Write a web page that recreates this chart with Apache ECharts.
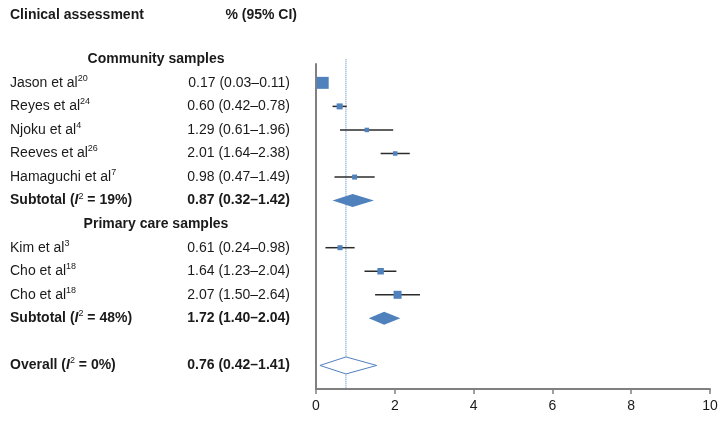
<!DOCTYPE html>
<html><head><meta charset="utf-8">
<script src="https://cdn.jsdelivr.net/npm/echarts@6/dist/echarts.min.js"></script>
<style>html,body{margin:0;padding:0;background:#fff}#c{width:726px;height:421px}</style>
</head><body><div id="c"></div>
<script>
// ---- data ----
const groupHeaders = ['Community samples', 'Primary care samples'];
const groupRows = [0, 7];

const studyNames = ['Jason et al', 'Reyes et al', 'Njoku et al', 'Reeves et al', 'Hamaguchi et al', 'Kim et al', 'Cho et al', 'Cho et al'];
const studyRefs = ['20', '24', '4', '26', '7', '3', '18', '18'];
const studyRows = [1, 2, 3, 4, 5, 8, 9, 10];
const estimates = [0.17, 0.60, 1.29, 2.01, 0.98, 0.61, 1.64, 2.07];
const lowerCI = [0.03, 0.42, 0.61, 1.64, 0.47, 0.24, 1.23, 1.50];
const upperCI = [0.11, 0.78, 1.96, 2.38, 1.49, 0.98, 2.04, 2.64];
const weights = [12, 6, 4.5, 4.5, 5, 5, 6.5, 8];

const summaryPrefix = ['Subtotal', 'Subtotal', 'Overall'];
const summaryI2 = ['19%', '48%', '0%'];
const summaryTexts = ['0.87 (0.32–1.42)', '1.72 (1.40–2.04)', '0.76 (0.42–1.41)'];
const summaryRows = [6, 11, 13];
const diamondMid = [0.93, 1.73, 0.76];
const diamondLow = [0.42, 1.34, 0.10];
const diamondHigh = [1.47, 2.14, 1.54];
const diamondFilled = [true, true, false];
const overallEstimate = 0.76;

const xTicks = [0, 2, 4, 6, 8, 10];

// ---- styles ----
const FONT = '"Liberation Sans", Arial, sans-serif';
const TXT = '#1a1a1a';
const BLUE = '#4F81BD';
const rich = {
  n: {fontSize: 14, fontFamily: FONT, fill: TXT, color: TXT, lineHeight: 18},
  s: {fontSize: 9, fontFamily: FONT, fill: TXT, color: TXT, verticalAlign: 'top'},
  b: {fontSize: 14, fontFamily: FONT, fontWeight: 'bold', fill: TXT, color: TXT, lineHeight: 18},
  bi: {fontSize: 14, fontFamily: FONT, fontWeight: 'bold', fontStyle: 'italic', fill: TXT, color: TXT, lineHeight: 18},
  bs: {fontSize: 9, fontFamily: FONT, fill: TXT, color: TXT, verticalAlign: 'top'}
};

function ciText(e, l, u) { return e.toFixed(2) + ' (' + l.toFixed(2) + '–' + u.toFixed(2) + ')'; }

function renderStudy(params, api) {
  const i = api.value(5);
  const row = api.value(1);
  const c = api.coord([api.value(0), row]);
  const lo = api.coord([api.value(2), row]);
  const hi = api.coord([api.value(3), row]);
  const s = api.value(4);
  return {type: 'group', children: [
    {type: 'line', shape: {x1: lo[0], y1: c[1], x2: hi[0], y2: c[1]}, style: {stroke: '#2b2b2b', lineWidth: 1.5}},
    {type: 'rect', shape: {x: c[0] - s / 2, y: c[1] - s / 2, width: s, height: s}, style: {fill: BLUE}},
    {type: 'text', x: 10, y: c[1], style: {text: '{n|' + studyNames[i] + '}{s|' + studyRefs[i] + '}', rich: rich, align: 'left', verticalAlign: 'middle'}},
    {type: 'text', x: 290, y: c[1], style: {text: ciText(estimates[i], lowerCI[i], upperCI[i]), fontSize: 14, fontFamily: FONT, fill: TXT, align: 'right', verticalAlign: 'middle'}}
  ]};
}

function renderSummary(params, api) {
  const i = api.value(4);
  const row = api.value(1);
  const m = api.coord([api.value(0), row]);
  const lo = api.coord([api.value(2), row]);
  const hi = api.coord([api.value(3), row]);
  const h = diamondFilled[i] ? 13 : 17;
  const pts = [[lo[0], m[1]], [m[0], m[1] - h / 2], [hi[0], m[1]], [m[0], m[1] + h / 2]];
  return {type: 'group', children: [
    {type: 'polygon', shape: {points: pts}, style: diamondFilled[i] ? {fill: BLUE} : {fill: '#fff', stroke: BLUE, lineWidth: 1}},
    {type: 'text', x: 10, y: m[1], style: {text: '{b|' + summaryPrefix[i] + ' (}{bi|I}{bs|2}{b| = ' + summaryI2[i] + ')}', rich: rich, align: 'left', verticalAlign: 'middle'}},
    {type: 'text', x: 290, y: m[1], style: {text: summaryTexts[i], fontSize: 14, fontWeight: 'bold', fontFamily: FONT, fill: TXT, align: 'right', verticalAlign: 'middle'}}
  ]};
}

function renderHeader(params, api) {
  const i = api.value(1);
  const p = api.coord([0, api.value(0)]);
  return {type: 'text', x: 156, y: p[1], style: {text: groupHeaders[i], fontSize: 14, fontWeight: 'bold', fontFamily: FONT, fill: TXT, align: 'center', verticalAlign: 'middle'}};
}

const chart = echarts.init(document.getElementById('c'));
chart.setOption({
  animation: false,
  backgroundColor: '#fff',
  title: [
    {text: 'Clinical assessment', left: 10, top: 8, textStyle: {fontSize: 14, fontWeight: 'bold', fontFamily: FONT, color: TXT}, padding: 0},
    {text: '% (95% CI)', right: 429, top: 8, textStyle: {fontSize: 14, fontWeight: 'bold', fontFamily: FONT, color: TXT}, padding: 0}
  ],
  grid: {left: 316, right: 16, top: 64, bottom: 32, containLabel: false},
  xAxis: {
    type: 'value', min: xTicks[0], max: xTicks[xTicks.length - 1], interval: xTicks[1] - xTicks[0],
    axisLine: {show: true, onZero: false, lineStyle: {color: '#808080', width: 2}},
    axisTick: {show: true, length: 5, lineStyle: {color: '#808080', width: 1.5}},
    axisLabel: {fontSize: 14, fontFamily: FONT, color: TXT, margin: 10},
    splitLine: {show: false}
  },
  yAxis: {
    type: 'value', inverse: true, min: 0.2, max: 14,
    axisLine: {show: true, onZero: false, lineStyle: {color: '#808080', width: 2}},
    axisTick: {show: false}, axisLabel: {show: false}, splitLine: {show: false}
  },
  series: [
    {type: 'line', z: 1, clip: false, symbol: 'none', silent: true,
      data: [[overallEstimate, 0], [overallEstimate, 14]],
      lineStyle: {color: BLUE, width: 1, type: 'dotted'}},
    {type: 'custom', z: 3, renderItem: renderStudy, clip: false,
      data: estimates.map((e, i) => [e, studyRows[i], lowerCI[i], upperCI[i], weights[i], i]),
      encode: {x: [0, 2, 3], y: 1}},
    {type: 'custom', z: 3, renderItem: renderSummary, clip: false,
      data: diamondMid.map((m, i) => [m, summaryRows[i], diamondLow[i], diamondHigh[i], i]),
      encode: {x: [0, 2, 3], y: 1}},
    {type: 'custom', z: 3, renderItem: renderHeader, clip: false,
      data: groupRows.map((r, i) => [r, i]),
      encode: {y: 0}}
  ]
});
</script></body></html>
